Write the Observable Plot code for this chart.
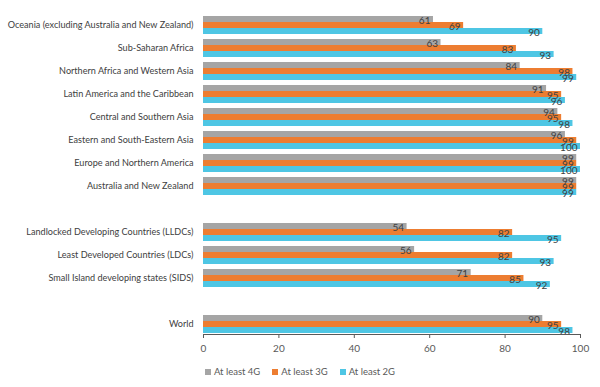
<!DOCTYPE html>
<html>
<head>
<meta charset="utf-8">
<script src="https://cdn.jsdelivr.net/npm/d3@7"></script>
<script src="https://cdn.jsdelivr.net/npm/@observablehq/plot@0.6"></script>
<style>
  html, body { margin: 0; padding: 0; background: #fff; }
  #chart { width: 600px; }
  .legend { display: flex; justify-content: center; gap: 12px; font-family: Lato, sans-serif; font-size: 9.5px; color: #595959; margin-top: 4px; padding-left: 0px; }
  .legend span.sw { display: inline-block; width: 6px; height: 6px; margin-right: 3px; vertical-align: 0px; }
</style>
</head>
<body>
<div id="chart"></div>
<script>
const categories = [
  "Oceania (excluding Australia and New Zealand)",
  "Sub-Saharan Africa",
  "Northern Africa and Western Asia",
  "Latin America and the Caribbean",
  "Central and Southern Asia",
  "Eastern and South-Eastern Asia",
  "Europe and Northern America",
  "Australia and New Zealand",
  "Landlocked Developing Countries (LLDCs)",
  "Least Developed Countries (LDCs)",
  "Small Island developing states (SIDS)",
  "World"
];
const series = ["At least 4G", "At least 3G", "At least 2G"];
const g4 = [61, 63, 84, 91, 94, 96, 99, 99, 54, 56, 71, 90];
const g3 = [69, 83, 98, 95, 95, 99, 99, 99, 82, 82, 85, 95];
const g2 = [90, 93, 99, 96, 98, 100, 100, 99, 95, 93, 92, 98];
const colors = ["#a5a5a5", "#ed7d31", "#4ec6e4"];
const xTicks = [0, 20, 40, 60, 80, 100];

const fyDomain = [
  ...categories.slice(0, 8), "__gap1",
  ...categories.slice(8, 11), "__gap2",
  categories[11]
];
const valuesBySeries = [g4, g3, g2];
const rows = categories.flatMap((c, i) =>
  series.map((s, j) => ({ category: c, series: s, value: valuesBySeries[j][i] }))
);

const chart = Plot.plot({
  width: 600,
  height: 362,
  marginLeft: 203,
  marginRight: 20,
  marginTop: 12,
  marginBottom: 25,
  style: { fontFamily: "Lato, sans-serif", fontSize: "9.1px", color: "#404040" },
  fy: {
    domain: fyDomain,
    paddingInner: 0.14,
    paddingOuter: 0.07,
    label: null,
    tickSize: 0,
    tickPadding: 10,
    tickFormat: d => d.startsWith("__") ? "" : d
  },
  y: { domain: series, axis: null, paddingInner: 0.05, paddingOuter: 0 },
  x: { domain: [0, 100], axis: null },
  color: { domain: series, range: colors },
  marks: [
    Plot.barX(rows, { fy: "category", y: "series", x: "value", fill: "series" }),
    Plot.text(rows, {
      fy: "category", y: "series", x: "value", text: d => String(d.value),
      textAnchor: "end", dx: -3, dy: 1.5, fill: "#404040", fontSize: 10
    }),
    Plot.axisX({
      ticks: xTicks, tickSize: 4, tickPadding: 6, facetAnchor: "bottom",
      label: null, stroke: "#595959", color: "#595959", fontSize: 10
    }),
    Plot.frame({ anchor: "bottom", facetAnchor: "bottom", stroke: "#595959" })
  ]
});
document.getElementById("chart").appendChild(chart);

const legend = document.createElement("div");
legend.className = "legend";
series.forEach((s, i) => {
  const item = document.createElement("div");
  const sw = document.createElement("span");
  sw.className = "sw";
  sw.style.background = colors[i];
  item.appendChild(sw);
  item.appendChild(document.createTextNode(s));
  legend.appendChild(item);
});
document.getElementById("chart").appendChild(legend);
</script>
</body>
</html>
